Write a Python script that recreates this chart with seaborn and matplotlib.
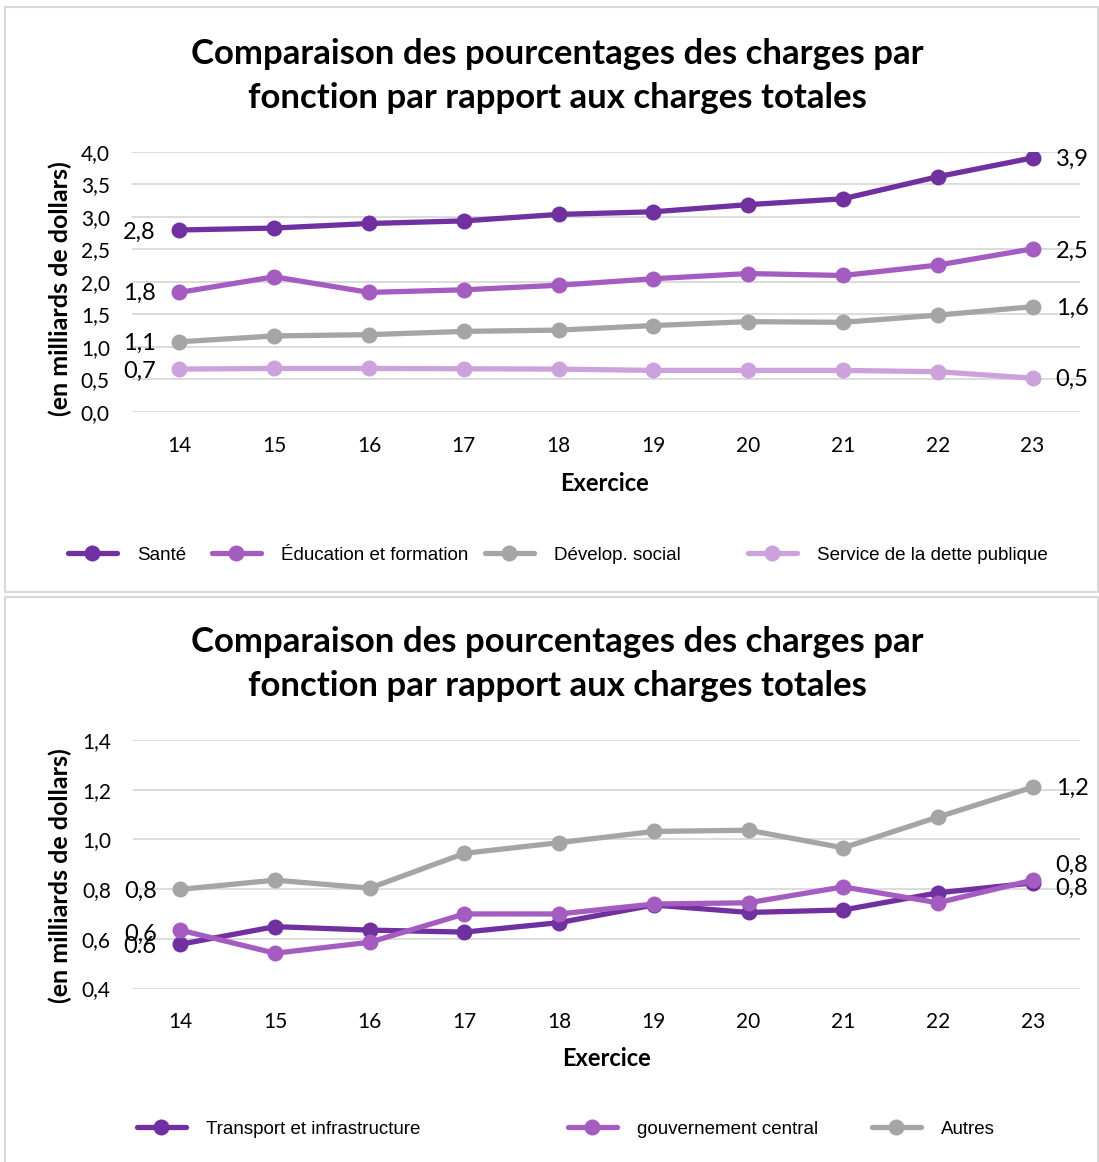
import numpy as np
import pandas as pd
import matplotlib.pyplot as plt
import seaborn as sns
from matplotlib.patches import Rectangle
from matplotlib.lines import Line2D

# data
exercices = [14, 15, 16, 17, 18, 19, 20, 21, 22, 23]

sante = [2.80, 2.83, 2.90, 2.94, 3.04, 3.08, 3.19, 3.28, 3.62, 3.91]
education = [1.84, 2.08, 1.84, 1.88, 1.95, 2.05, 2.13, 2.10, 2.26, 2.51]
develop_social = [1.08, 1.17, 1.19, 1.24, 1.26, 1.33, 1.39, 1.38, 1.49, 1.62]
dette_publique = [0.66, 0.67, 0.67, 0.665, 0.66, 0.64, 0.64, 0.64, 0.62, 0.52]

transport = [0.578, 0.649, 0.635, 0.627, 0.665, 0.736, 0.706, 0.716, 0.785, 0.825]
gouvernement = [0.635, 0.542, 0.586, 0.70, 0.70, 0.74, 0.745, 0.809, 0.745, 0.836]
autres = [0.799, 0.836, 0.804, 0.944, 0.987, 1.032, 1.037, 0.966, 1.09, 1.21]

top_names = ["Santé", "Éducation et formation", "Dévelop. social", "Service de la dette publique"]
top_first = ["2,8", "1,8", "1,1", "0,7"]
top_last = ["3,9", "2,5", "1,6", "0,5"]

bot_names = ["Transport et infrastructure", "gouvernement central", "Autres"]
bot_first = ["0.6", "0,6", "0,8"]
bot_last = ["0,8", "0,8", "1,2"]

top_ticks = [0.0, 0.5, 1.0, 1.5, 2.0, 2.5, 3.0, 3.5, 4.0]
bot_ticks = [0.4, 0.6, 0.8, 1.0, 1.2, 1.4]

title = "Comparaison des pourcentages des charges par\nfonction par rapport aux charges totales"

c_sante = "#7030A0"
c_educ = "#A55CC0"
c_gris = "#A5A5A5"
c_clair = "#CDA2DC"

sns.set_style("white")
plt.rcParams['font.family'] = ['Lato', 'DejaVu Sans']
plt.rcParams['text.color'] = 'black'
plt.rcParams['xtick.color'] = 'black'
plt.rcParams['ytick.color'] = 'black'
legend_font = ['Liberation Sans Narrow', 'Liberation Sans', 'DejaVu Sans']

W, H = 1099, 1162
fig = plt.figure(figsize=(W / 100, H / 100), dpi=100)


def fx(px):
    return px / W


def fy(py):
    return 1 - py / H


# panel borders
fig.add_artist(Rectangle((fx(5), fy(592)), fx(1093), (592 - 7) / H, transform=fig.transFigure,
                         fill=False, edgecolor="#D9D9D9", lw=1.5))
fig.add_artist(Rectangle((fx(5), fy(1170)), fx(1093), (1170 - 597) / H, transform=fig.transFigure,
                         fill=False, edgecolor="#D9D9D9", lw=1.5))


def draw_panel(ax, series, colors, names, first, last, ticks, fmt, first_dy, last_dy):
    for vals, col, name in zip(series, colors, names):
        sns.lineplot(x=exercices, y=vals, ax=ax, color=col, lw=3.8, marker="o",
                     markersize=11.5, markeredgewidth=0, label=name, legend=False)
    for vals, lab, dy in zip(series, first, first_dy):
        ax.annotate(lab, (exercices[0], vals[0]), xytext=(-17, -dy * 0.72), textcoords="offset points",
                    ha="right", va="center", fontsize=17)
    for vals, lab, dy in zip(series, last, last_dy):
        ax.annotate(lab, (exercices[-1], vals[-1]), xytext=(16.5, -dy * 0.72), textcoords="offset points",
                    ha="left", va="center", fontsize=17)
    ax.set_xlim(13.5, 23.5)
    ax.set_ylim(ticks[0], ticks[-1])
    ax.set_yticks(ticks)
    ax.set_yticklabels([fmt(t) for t in ticks], fontsize=15)
    ax.set_xticks(exercices)
    ax.set_xticklabels([str(e) for e in exercices], fontsize=15)
    ax.tick_params(axis="y", length=0, pad=16)
    ax.tick_params(axis="x", length=0, pad=17)
    ax.grid(axis="y", color="#D9D9D9", lw=1.3)
    ax.set_axisbelow(True)
    for s in ax.spines.values():
        s.set_visible(False)
    ax.set_xlabel("")
    ax.set_ylabel("")


ax1 = fig.add_axes([fx(132), fy(412), fx(948), 260 / H])
draw_panel(ax1, [sante, education, develop_social, dette_publique],
           [c_sante, c_educ, c_gris, c_clair], top_names, top_first, top_last,
           top_ticks, lambda t: f"{t:.1f}".replace(".", ","), [2, 1, 2, 2], [1, 2, 2, 1])

ax2 = fig.add_axes([fx(133), fy(988.5), fx(947), 248.5 / H])
draw_panel(ax2, [transport, gouvernement, autres],
           [c_sante, c_educ, c_gris], bot_names, bot_first, bot_last,
           bot_ticks, lambda t: f"{t:.1f}".replace(".", ","), [2, 4, 2], [5, -15, 1])

for yc in (76, 664):
    fig.text(fx(557), fy(yc), title, ha="center", va="center", fontsize=25,
             fontweight="bold", linespacing=1.5)

fig.text(fx(60), fy(289), "(en milliards de dollars)", rotation=90, ha="center", va="center",
         fontsize=18, fontweight="bold")
fig.text(fx(60), fy(876), "(en milliards de dollars)", rotation=90, ha="center", va="center",
         fontsize=18, fontweight="bold")
fig.text(fx(605), fy(483), "Exercice", ha="center", va="center", fontsize=17, fontweight="bold")
fig.text(fx(606), fy(1058), "Exercice", ha="center", va="center", fontsize=17, fontweight="bold")


def legend_entry(color, name, x_px, y_px):
    h = Line2D([], [], color=color, lw=3.8, marker="o", markersize=11.5, markeredgewidth=0)
    fig.legend([h], [name], loc="center left", bbox_to_anchor=(fx(x_px), fy(y_px)),
               frameon=False, handlelength=2.6, handletextpad=1.1, borderpad=0,
               borderaxespad=0, prop={"family": legend_font, "size": 13.5})


for col, name, xp in zip([c_sante, c_educ, c_gris, c_clair], top_names, [68, 212, 485, 748]):
    legend_entry(col, name, xp, 555)
for col, name, xp in zip([c_sante, c_educ, c_gris], bot_names, [137, 568, 872]):
    legend_entry(col, name, xp, 1129)

fig.savefig("out.png", dpi=100)
